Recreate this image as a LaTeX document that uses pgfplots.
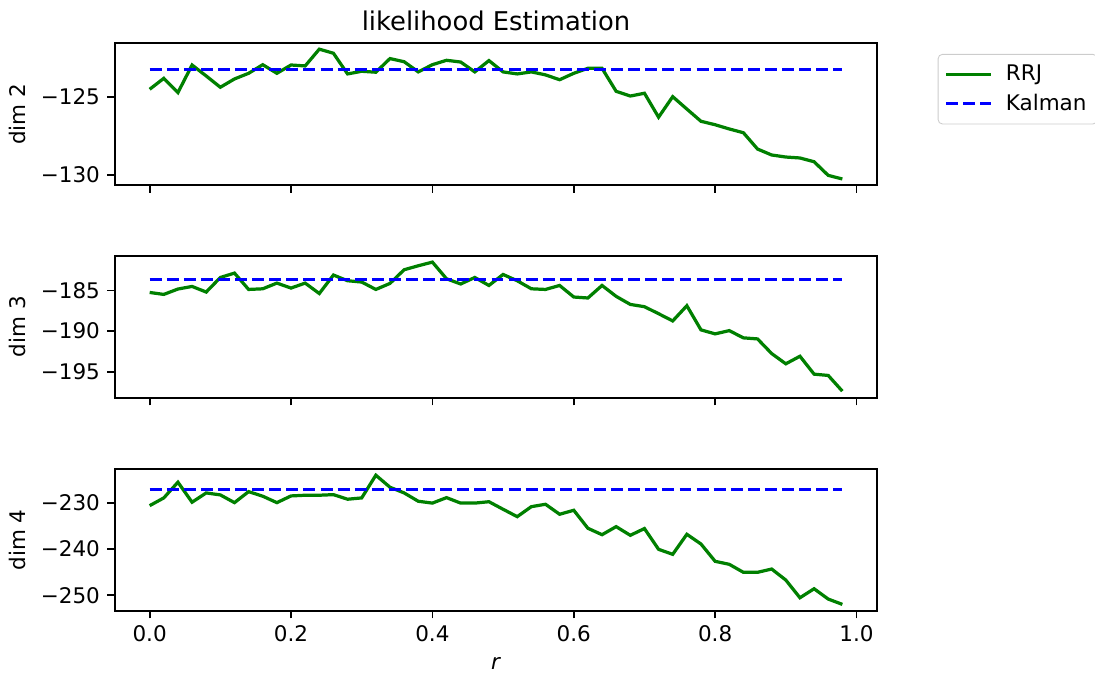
\documentclass[border=0pt]{standalone}
\usepackage{fontspec}
\setmainfont{DejaVu Sans}
\usepackage{pgfplots}
\pgfplotsset{compat=1.18}
\usepackage{pgfplotstable}

\definecolor{mplgreen}{RGB}{0,128,0}
\definecolor{mplblue}{RGB}{0,0,255}
\definecolor{legframe}{gray}{0.8}

% RRJ log-likelihood per dimension
\pgfplotstableread{
r     d2       d3       d4
0.00  -124.53  -185.25  -230.65
0.02  -123.83  -185.49  -228.98
0.04  -124.74  -184.83  -225.58
0.06  -122.98  -184.51  -229.91
0.08  -123.68  -185.20  -227.90
0.10  -124.40  -183.41  -228.33
0.12  -123.87  -182.87  -230.00
0.14  -123.51  -184.88  -227.62
0.16  -122.96  -184.80  -228.61
0.18  -123.51  -184.10  -230.00
0.20  -122.98  -184.71  -228.55
0.22  -123.04  -184.10  -228.40
0.24  -121.97  -185.38  -228.40
0.26  -122.23  -183.11  -228.27
0.28  -123.55  -183.81  -229.26
0.30  -123.38  -183.97  -228.98
0.32  -123.44  -184.88  -224.07
0.34  -122.57  -184.14  -226.67
0.36  -122.77  -182.46  -227.90
0.38  -123.42  -181.97  -229.70
0.40  -122.96  -181.52  -230.10
0.42  -122.68  -183.57  -228.92
0.44  -122.79  -184.21  -230.10
0.46  -123.42  -183.41  -230.10
0.48  -122.70  -184.39  -229.80
0.50  -123.42  -183.04  -231.43
0.52  -123.55  -183.81  -233.03
0.54  -123.42  -184.80  -230.87
0.56  -123.61  -184.88  -230.35
0.58  -123.92  -184.39  -232.51
0.60  -123.51  -185.81  -231.65
0.62  -123.19  -185.93  -235.54
0.64  -123.19  -184.39  -236.93
0.66  -124.66  -185.73  -235.19
0.68  -124.96  -186.72  -237.06
0.70  -124.78  -187.00  -235.60
0.72  -126.31  -187.86  -240.09
0.74  -125.00  -188.75  -241.17
0.76  -125.79  -186.88  -236.84
0.78  -126.57  -189.85  -238.94
0.80  -126.79  -190.34  -242.68
0.82  -127.06  -189.94  -243.33
0.84  -127.30  -190.83  -245.06
0.86  -128.34  -190.96  -245.06
0.88  -128.72  -192.76  -244.35
0.90  -128.85  -194.02  -246.73
0.92  -128.91  -193.09  -250.56
0.94  -129.15  -195.29  -248.61
0.96  -130.02  -195.45  -250.84
0.98  -130.25  -197.38  -251.99
}\rrj

\pgfplotsset{
  panel/.style={
    scale only axis, width=354.4pt, height=66pt,
    anchor=north west,
    xmin=-0.049, xmax=1.029,
    xtick={0,0.2,0.4,0.6,0.8,1},
    xticklabels={},
    xtick pos=bottom, ytick pos=left,
    tick align=outside,
    major tick length=3.5pt,
    every tick/.style={black, line width=0.8pt},
    axis line style={line width=0.8pt},
    tick label style={font=\fontsize{10}{12}\selectfont},
    label style={font=\fontsize{10}{12}\selectfont},
  },
  rrjline/.style={mplgreen, line width=1.5pt},
  kalline/.style={mplblue, line width=1.5pt, dash pattern=on 5.55pt off 2.4pt},
}

\begin{document}
\begin{tikzpicture}
\useasboundingbox (-53.5pt,20.1pt) rectangle (455.8pt,-294.7pt);

\begin{axis}[panel, at={(0pt,0pt)},
  ymin=-130.64, ymax=-121.59,
  ytick={-130,-125}, yticklabels={−130,−125},
  ylabel={dim 2},
  title={likelihood Estimation},
  title style={anchor=base, inner sep=0pt,
    font=\fontsize{12}{14}\selectfont},
  legend style={at={(1.0797,0.9245)}, anchor=north west,
    draw=legframe, rounded corners=2pt,
    font=\fontsize{10}{12}\selectfont,
    inner xsep=3pt, inner ysep=3pt, row sep=0.5pt, column sep=4pt,
    cells={anchor=west}},
  legend image code/.code={\draw[#1] (0pt,0pt) -- (21pt,0pt);},
]
\addplot[rrjline] table[x=r, y=d2] {\rrj};
\addlegendentry{RRJ}
\addplot[kalline] coordinates {(0,-123.25) (0.98,-123.25)};
\addlegendentry{Kalman}
\end{axis}

\begin{axis}[panel, at={(0pt,-98.9pt)},
  ymin=-198.19, ymax=-180.75,
  ytick={-195,-190,-185}, yticklabels={−195,−190,−185},
  ylabel={dim 3},
]
\addplot[rrjline] table[x=r, y=d3] {\rrj};
\addplot[kalline] coordinates {(0,-183.69) (0.98,-183.69)};
\end{axis}

\begin{axis}[panel, at={(0pt,-198.0pt)},
  ymin=-253.38, ymax=-222.71,
  ytick={-250,-240,-230}, yticklabels={−250,−240,−230},
  xticklabels={0.0,0.2,0.4,0.6,0.8,1.0},
  ylabel={dim 4},
  xlabel={\textit{r}},
]
\addplot[rrjline] table[x=r, y=d4] {\rrj};
\addplot[kalline] coordinates {(0,-227.1) (0.98,-227.1)};
\end{axis}
\end{tikzpicture}
\end{document}
